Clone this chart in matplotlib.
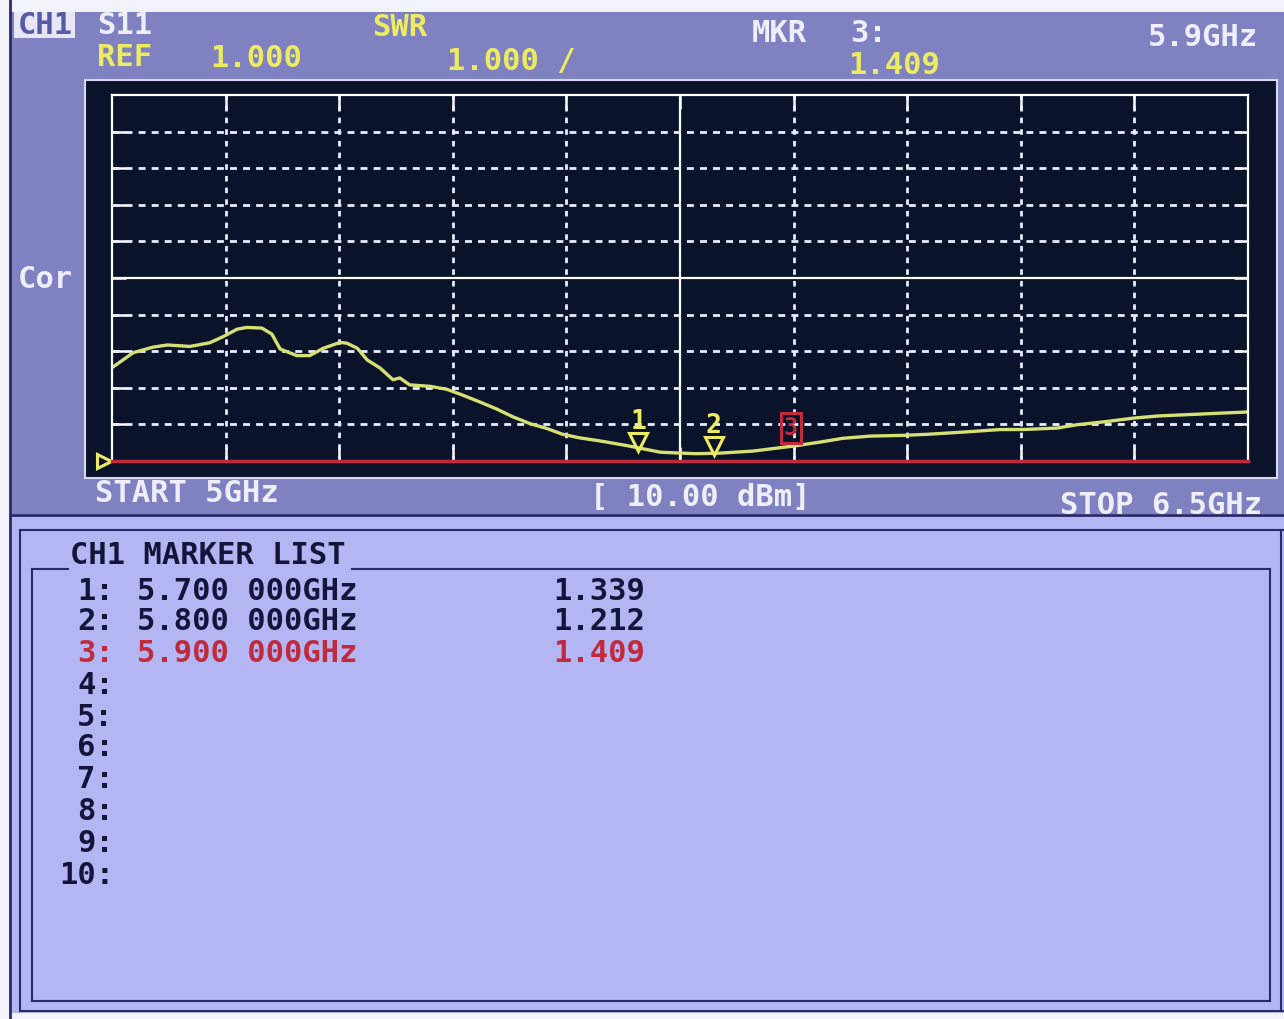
import matplotlib
matplotlib.use("Agg")
import matplotlib.pyplot as plt
from matplotlib.patches import Rectangle
from matplotlib import transforms

# S11 SWR trace (GHz, SWR)
freq_ghz = [5.000, 5.028, 5.054, 5.073, 5.103, 5.129, 5.147, 5.165, 5.178, 5.198,
            5.211, 5.222, 5.244, 5.261, 5.279, 5.301, 5.310, 5.324, 5.337, 5.354,
            5.371, 5.380, 5.393, 5.420, 5.442, 5.463, 5.486, 5.508, 5.529, 5.552,
            5.574, 5.595, 5.618, 5.644, 5.680, 5.700, 5.724, 5.746, 5.770, 5.800,
            5.846, 5.900, 5.939, 5.965, 6.001, 6.044, 6.077, 6.124, 6.173, 6.203,
            6.248, 6.274, 6.314, 6.348, 6.381, 6.456, 6.500]
swr = [3.55, 3.96, 4.11, 4.17, 4.13, 4.23, 4.40, 4.60, 4.65, 4.63,
       4.47, 4.06, 3.88, 3.88, 4.08, 4.24, 4.22, 4.08, 3.76, 3.54,
       3.22, 3.27, 3.08, 3.04, 2.96, 2.80, 2.61, 2.42, 2.21, 2.02,
       1.89, 1.73, 1.63, 1.55, 1.42, 1.339, 1.24, 1.22, 1.20, 1.212,
       1.27, 1.409, 1.53, 1.62, 1.68, 1.70, 1.73, 1.79, 1.86, 1.86,
       1.90, 1.99, 2.08, 2.17, 2.23, 2.30, 2.34]

# markers
mkr_num = [1, 2, 3]
mkr_freq = [5.7, 5.8, 5.9]
mkr_swr = [1.339, 1.212, 1.409]
mkr_freq_txt = ["5.700 000GHz", "5.800 000GHz", "5.900 000GHz"]
mkr_val_txt = ["1.339", "1.212", "1.409"]
active_mkr = 3
list_rows = list(range(1, 11))

f_start, f_stop = 5.0, 6.5
ref_val, per_div = 1.0, 1.0

W, H = 1284, 1019
top_bg = '#8081c0'
scr_bg = '#0a1329'
low_bg = '#b4b6f4'
dark = '#2a2a6a'
yel = '#ecec62'
wht = '#eeeefc'
trace_c = '#d6e072'
red = '#c02a3c'
ink = '#15153c'

fig = plt.figure(figsize=(W / 100, H / 100), dpi=100, facecolor='#f2f2fa')
bg = fig.add_axes([0, 0, 1, 1])
bg.set_xlim(0, W)
bg.set_ylim(H, 0)
bg.axis('off')

# panels
bg.add_patch(Rectangle((10, 12), W - 10, 502, fc=top_bg, ec='none'))
bg.add_patch(Rectangle((10, 516), W - 10, 497, fc=low_bg, ec='none'))
bg.plot([10, 10], [0, H], color=dark, lw=2)
bg.add_patch(Rectangle((85, 80), 1192, 398, fc=scr_bg, ec='#d8d8f0', lw=1.5))
bg.plot([10, W], [515, 515], color=dark, lw=2)
bg.plot([20, W], [530, 530], color=dark, lw=1.5)
bg.plot([20, 20], [530, 1011], color=dark, lw=1.5)
bg.plot([20, W], [1011, 1011], color=dark, lw=1.5)
bg.plot([1281, 1281], [530, 1011], color=dark, lw=1.5)
# marker list frame
bg.plot([32, 68], [569, 569], color=dark, lw=1.5)
bg.plot([352, 1270], [569, 569], color=dark, lw=1.5)
bg.plot([32, 32], [569, 1001], color=dark, lw=1.5)
bg.plot([1270, 1270], [569, 1001], color=dark, lw=1.5)
bg.plot([32, 1270], [1001, 1001], color=dark, lw=1.5)


def txt(x, y, s, c, **kw):
    bg.text(x, y, s, color=c, fontsize=22, family='DejaVu Sans Mono',
            weight='bold', va='center', **kw)


# header
bg.add_patch(Rectangle((14, 12), 61, 26, fc='#e6e6f6', ec='none'))
txt(45, 25, "CH1", '#5858a8', ha='center')
txt(97, 25, "S11", wht)
txt(372, 27, "SWR", yel)
txt(752, 33, "MKR", wht)
txt(850, 33, "%d:" % active_mkr, wht)
txt(1148, 37, "%.1fGHz" % mkr_freq[active_mkr - 1], wht)
txt(97, 57, "REF", yel)
txt(210, 58, "%.3f" % ref_val, yel)
txt(447, 61, "%.3f /" % per_div, yel)
txt(848, 65, mkr_val_txt[active_mkr - 1], yel)
txt(18, 280, "Cor", wht)
txt(95, 493, "START 5GHz", wht)
txt(590, 497, "[ 10.00 dBm]", wht)
txt(1060, 505, "STOP 6.5GHz", wht)

# marker list
txt(70, 556, "CH1 MARKER LIST", ink)
row_y = [591, 622, 654, 685, 717, 748, 780, 812, 843, 875]
for n, y in zip(list_rows, row_y):
    c = red if n == active_mkr else ink
    txt(114, y, "%d:" % n, c, ha='right')
    if n <= len(mkr_num):
        txt(137, y, mkr_freq_txt[n - 1], c)
        txt(553, y, mkr_val_txt[n - 1], c)

# graticule
ax = fig.add_axes([112 / W, 1 - 461 / H, (1248 - 112) / W, (461 - 95) / H])
ax.set_facecolor('none')
ax.set_xlim(f_start, f_stop)
ax.set_ylim(ref_val, ref_val + 10 * per_div)
xs = [f_start + i * (f_stop - f_start) / 10 for i in range(1, 10)]
ys = [ref_val + i * per_div for i in range(1, 10)]
for i, x in enumerate(xs):
    if i == 4:
        ax.axvline(x, color='white', lw=1.6)
    else:
        ax.axvline(x, color='#e8ecff', lw=2, ls=(0, (2, 2.2)))
for i, y in enumerate(ys):
    if i == 4:
        ax.axhline(y, color='white', lw=1.6)
    else:
        ax.axhline(y, color='#e8ecff', lw=2, ls=(0, (2.5, 2.2)))
ax.set_xticks(xs)
ax.set_yticks(ys)
ax.tick_params(direction='in', length=10, width=1.8, color='white',
               top=True, right=True, labelbottom=False, labelleft=False)
for s in ['top', 'left', 'right']:
    ax.spines[s].set_color('white')
    ax.spines[s].set_linewidth(1.6)
ax.spines['bottom'].set_color(red)
ax.spines['bottom'].set_linewidth(2.5)

# trace
ax.plot(freq_ghz, swr, color=trace_c, lw=2.4)

# reference pointer
ref_tr = transforms.offset_copy(ax.transData, fig, x=-8, y=0, units='dots')
ax.plot([f_start], [ref_val], marker='>', ms=10, mfc='none', mec=yel, mew=2.2,
        transform=ref_tr, clip_on=False)

# markers
for n, f, v in zip(mkr_num, mkr_freq, mkr_swr):
    if n == active_mkr:
        ax.annotate(str(n), (f, v), xytext=(-3, 18), textcoords='offset pixels',
                    ha='center', va='center', color=red, fontsize=17,
                    family='DejaVu Sans Mono', weight='bold',
                    bbox=dict(boxstyle='square,pad=0.12', fc='none', ec=red, lw=2.2))
    else:
        tri_tr = transforms.offset_copy(ax.transData, fig, x=-4, y=7, units='dots')
        ax.plot([f], [v], marker='v', ms=13, mfc='none', mec=yel, mew=2.2,
                transform=tri_tr, clip_on=False)
        ax.annotate(str(n), (f, v), xytext=(-4, 14), textcoords='offset pixels',
                    ha='center', va='bottom', color=yel, fontsize=19,
                    family='DejaVu Sans Mono', weight='bold')

fig.savefig('out.png', dpi=100, facecolor=fig.get_facecolor())
